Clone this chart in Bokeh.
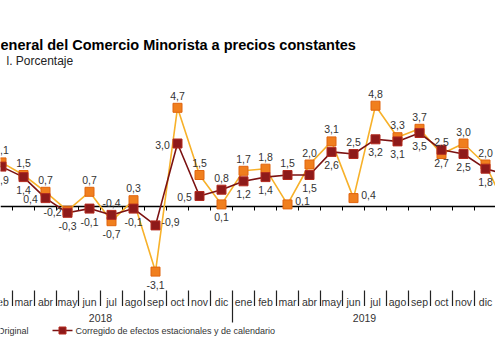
from bokeh.plotting import figure
from bokeh.models import Range1d, Label, ColumnDataSource
from bokeh.embed import file_html
from bokeh.resources import INLINE
from bokeh.core.properties import value

# ---- data ----
months_2018 = ["feb", "mar", "abr", "may", "jun", "jul", "ago", "sep", "oct", "nov", "dic"]
months_2019 = ["ene", "feb", "mar", "abr", "may", "jun", "jul", "ago", "sep", "oct", "nov", "dic"]
years = ["2018", "2019"]
original = [2.1, 1.5, 0.7, -0.2, 0.7, -0.7, 0.3, -3.1, 4.7, 1.5, 0.1,
            1.7, 1.8, 0.1, 2.0, 3.1, 0.4, 4.8, 3.3, 3.7, 2.5, 3.0, 2.0]
corregido = [1.9, 1.4, 0.4, -0.3, -0.1, -0.4, -0.1, -0.9, 3.0, 0.5, 0.8,
             1.2, 1.4, 1.5, 1.5, 2.6, 2.5, 3.2, 3.1, 3.5, 2.7, 2.5, 1.8]
# first month of 2020, only the start of its segment is visible at the right edge
original_next = -0.2
corregido_next = 1.5
series_names = ["Original", "Corregido de efectos estacionales y de calendario"]
title_text = "eneral del Comercio Minorista a precios constantes"
subtitle_text = "l. Porcentaje"

# label placement (a=above, b=below, l=left, r=right)
orig_pos = ["a", "a", "a", "l", "a", "b", "a", "b", "a", "a", "b",
            "a", "a", "r", "a", "a", "r", "a", "a", "a", "a", "a", "a"]
corr_pos = ["b", "b", "l", "b", "b", "a", "b", "r", "l", "l", "a",
            "b", "b", "a", "b", "b", "a", "b", "b", "b", "b", "b", "b"]
OFF = {"a": (0, -12), "b": (0, 13), "l": (-15, 1), "r": (15, -3)}

months = months_2018 + months_2019
n = len(months)
xs = list(range(n))

# ---- geometry: canvas pixels -> data ----
PXX = 22.0   # px per month
PXY = 21.0   # px per percentage point
X_SHIFT = 1.0
ZERO_Y = 206.0  # canvas y of zero line


def dx(sx):
    return (sx - X_SHIFT) / PXX


def dy(sy):
    return (ZERO_Y - sy) / PXY


W, H = 495, 351
p = figure(width=W, height=H, output_backend="svg", toolbar_location=None,
           x_range=Range1d(dx(0), dx(W)), y_range=Range1d(dy(H), dy(0)),
           x_axis_type=None, y_axis_type=None, min_border=0, title=None)
p.outline_line_color = None
p.xgrid.visible = False
p.ygrid.visible = False
p.background_fill_color = "white"
p.border_fill_color = "white"

FONT = value("Liberation Sans")
TXT = "#333333"

# zero axis line and small ticks at month boundaries
p.segment(x0=[dx(0)], y0=[0], x1=[dx(W)], y1=[0], line_color="black", line_width=1.5)
bx = [i + 0.5 for i in range(-1, n)]
p.segment(x0=bx, y0=[0] * len(bx), x1=bx, y1=[-4 / PXY] * len(bx),
          line_color="black", line_width=1)

# series
ORANGE_LINE = "#F7B12A"
ORANGE_MARK = "#F07F1E"
ORANGE_EDGE = "#E0650F"
DARK_LINE = "#7B1212"
DARK_MARK = "#8E1A1A"
DARK_EDGE = "#B32A1F"

p.line(xs + [n], original + [original_next], line_color=ORANGE_LINE, line_width=1.6)
p.line(xs + [n], corregido + [corregido_next], line_color=DARK_LINE, line_width=1.6)
p.scatter(xs, original, marker="square", size=9, fill_color=ORANGE_MARK,
          line_color=ORANGE_EDGE, line_width=1)
p.scatter(xs, corregido, marker="square", size=9, fill_color=DARK_MARK,
          line_color=DARK_EDGE, line_width=1)


def fmt(v):
    return ("%.1f" % v).replace(".", ",")


for vals, pos in ((original, orig_pos), (corregido, corr_pos)):
    src = ColumnDataSource(dict(
        x=xs, y=vals, t=[fmt(v) for v in vals],
        xo=[OFF[c][0] for c in pos], yo=[OFF[c][1] for c in pos]))
    p.text(x="x", y="y", text="t", x_offset="xo", y_offset="yo", source=src,
           text_font=FONT, text_font_size="10.5px", text_color=TXT,
           text_align="center", text_baseline="middle")

# month category labels with separators
p.text(x=xs, y=[dy(301)] * n, text=months, text_font=FONT, text_font_size="10.5px",
       text_color=TXT, text_align="center", text_baseline="middle")
sep_x = [i + 0.5 for i in range(-1, n)]
sep_bottom = [dy(322) if abs(x - (len(months_2018) - 0.5)) < 1e-9 else dy(305.5) for x in sep_x]
p.segment(x0=sep_x, y0=[dy(290)] * len(sep_x), x1=sep_x, y1=sep_bottom,
          line_color="#222222", line_width=1.2)
# years: centred over their twelve months (2018 starts one month off-canvas)
year_centers = [(len(months_2018) - 12 + len(months_2018) - 1) / 2.0,
                (len(months_2018) + n - 1) / 2.0]
p.text(x=year_centers, y=[dy(317)] * 2, text=years, text_font=FONT,
       text_font_size="10.5px", text_color=TXT, text_align="center",
       text_baseline="middle")

# titles
p.add_layout(Label(x=dx(0), y=dy(44), text=title_text, text_font="Liberation Sans",
                   text_font_size="14.5px", text_font_style="bold", text_color="black",
                   text_baseline="middle", text_align="left"))
p.add_layout(Label(x=dx(6), y=dy(60), text=subtitle_text, text_font="Liberation Sans",
                   text_font_size="12px", text_color="#222222",
                   text_baseline="middle", text_align="left"))

# legend (drawn by hand, the first entry's symbol lies off-canvas)
LY = dy(330)
p.text(x=[dx(-3)], y=[LY], text=[series_names[0]], text_font=FONT,
       text_font_size="9px", text_color=TXT, text_align="left", text_baseline="middle")
p.segment(x0=[dx(52)], y0=[LY], x1=[dx(72)], y1=[LY], line_color=DARK_LINE, line_width=1.6)
p.scatter([dx(62)], [LY], marker="square", size=7, fill_color=DARK_MARK,
          line_color=DARK_EDGE)
p.text(x=[dx(75)], y=[LY], text=[series_names[1]], text_font=FONT,
       text_font_size="9px", text_color=TXT, text_align="left", text_baseline="middle")

open("out.html", "w").write(file_html(p, INLINE))
